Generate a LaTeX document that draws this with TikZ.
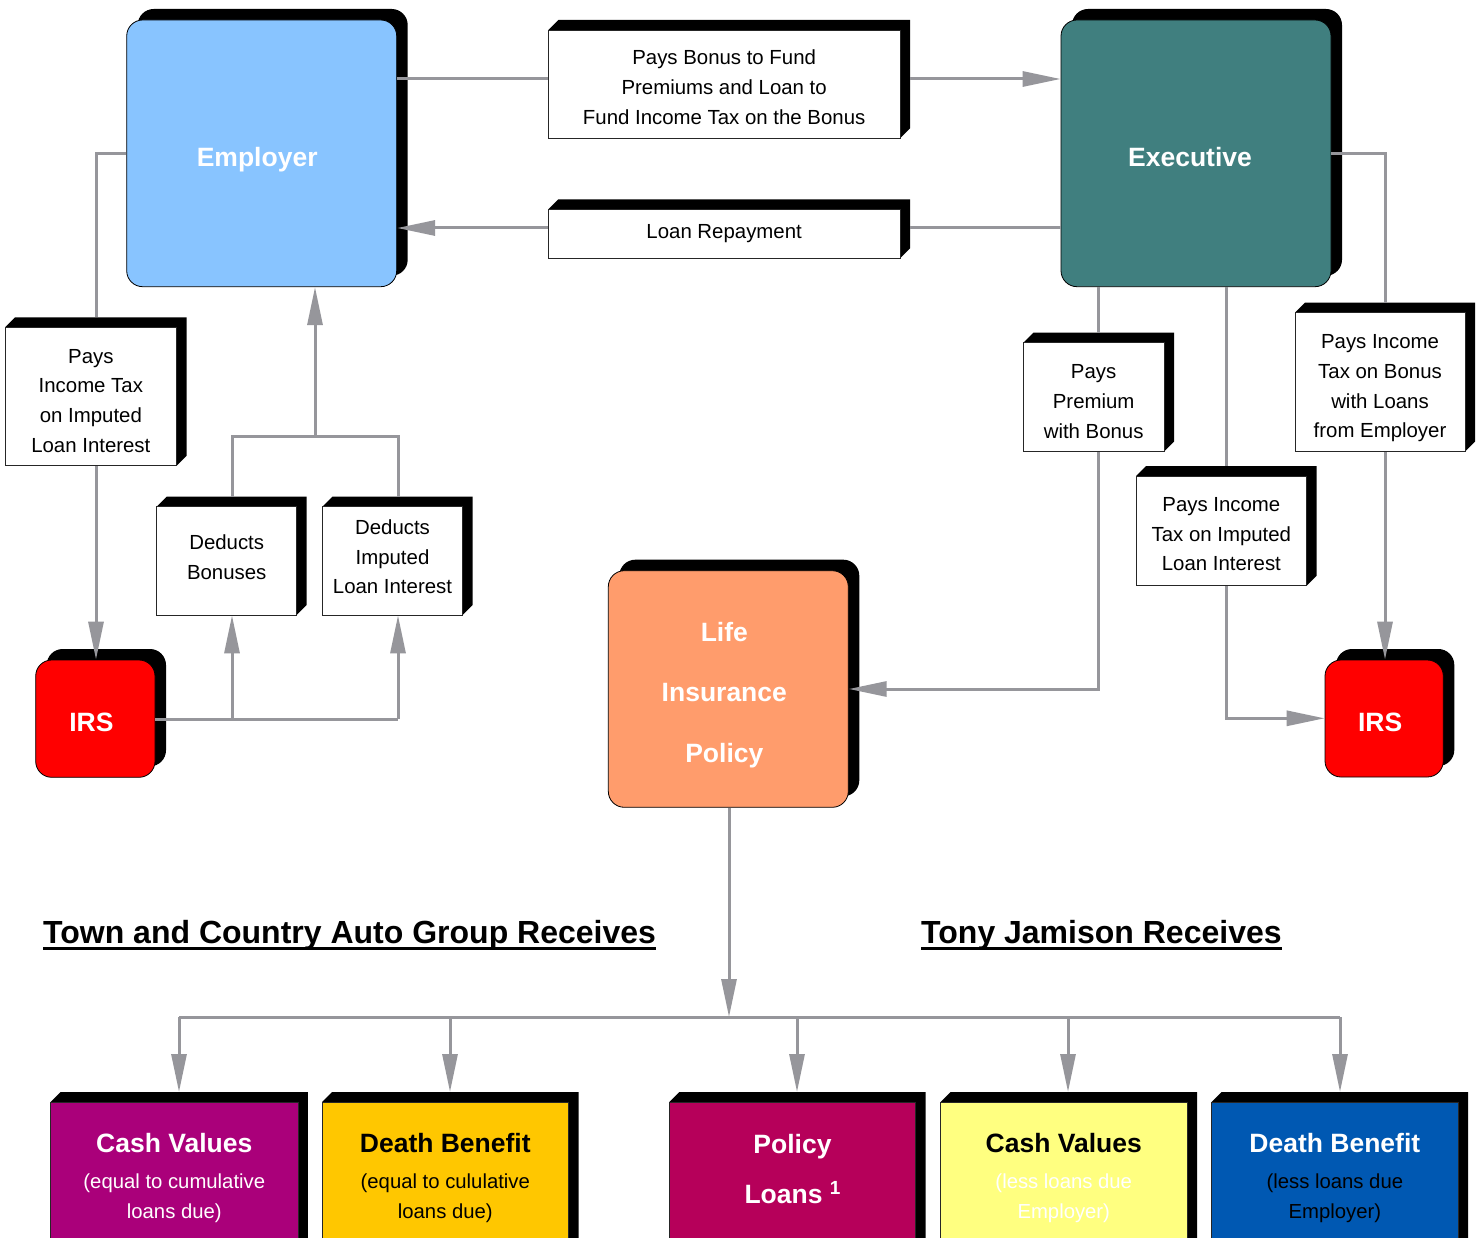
\documentclass[tikz,border=0pt]{standalone}
\usepackage{fontspec}
\setmainfont{Liberation Sans}
\usetikzlibrary{arrows.meta,calc}
\definecolor{linegray}{RGB}{150,150,155}
\definecolor{empblue}{RGB}{136,196,255}
\definecolor{exeteal}{RGB}{64,127,127}
\definecolor{lifeorange}{RGB}{255,156,108}
\definecolor{cvpurple}{RGB}{170,0,122}
\definecolor{dbyellow}{RGB}{255,199,0}
\definecolor{plcrimson}{RGB}{182,0,90}
\definecolor{cvyellow}{RGB}{255,255,128}
\definecolor{dbblue}{RGB}{0,88,178}
\tikzset{
  conn/.style={draw=linegray, line width=3pt},
  arr/.style={conn, -{Triangle[length=38pt,width=15pt]}},
  lbl/.style={draw=black!85, line width=0.8pt, fill=white, inner sep=0pt, align=center,
    font=\fontsize{20.4}{29.7}\selectfont},
  rbx/.style={draw=black, line width=0.8pt, rounded corners=16pt, inner sep=0pt, align=center,
    text=white, text depth=0pt, font=\bfseries\fontsize{26.5}{30}\selectfont},
  btm/.style={font=\fontsize{20.3}{29.3}\selectfont},
  head/.style={inner sep=0pt, anchor=base west, font=\bfseries\fontsize{32}{36}\selectfont}
}
% name, left, top, right, bottom, options, text  (pixel coordinates, y downwards)
\newcommand{\xbox}[7]{%
  \fill[black] (#2,-#3) -- (#2+10,-#3+10) -- (#4+10,-#3+10) -- (#4+10,-#5+10) -- (#4,-#5) -- (#4,-#3) -- cycle;
  \coordinate (#1x) at (#4+10,-#3+10);
  \node[lbl, minimum width=#4-#2, minimum height=#5-#3, #6] (#1) at ({(#2+#4)/2},{-(#3+#5)/2}) {#7};
}
\newcommand{\rbox}[7]{%
  \fill[black, rounded corners=16pt] (#2+11,-#3+11) rectangle (#4+11,-#5+11);
  \node[rbx, minimum width=#4-#2, minimum height=#5-#3, #6] (#1) at ({(#2+#4)/2},{-(#3+#5)/2}) {#7};
}
\newcommand{\tup}[1]{\rule{0pt}{#1pt}}
\newcommand{\tdn}[1]{\rule[-#1pt]{0pt}{0pt}}
\begin{document}
\begin{tikzpicture}[x=1pt,y=1pt]
\useasboundingbox (0,0) rectangle (1479,-1238);
\clip (0,0) rectangle (1479,-1238);
\fill[white] (0,0) rectangle (1479,-1238);

% main rounded boxes
\rbox{emp}{126.7}{20}{396.7}{286.7}{fill=empblue}{\hspace*{-9pt}\tup{27}Employer}
\rbox{exe}{1061}{20}{1331}{286.7}{fill=exeteal}{\hspace*{-12pt}\tup{27}Executive}
\rbox{irsL}{35.7}{660}{155}{777.3}{fill=red}{\hspace*{-8pt}\tup{25}IRS}
\rbox{irsR}{1325}{660}{1443.3}{777}{fill=red}{\hspace*{-8pt}\tup{25}IRS}
\rbox{life}{608.3}{570.7}{848.3}{807.3}{fill=lifeorange, font=\bfseries\fontsize{26.5}{60.5}\selectfont}{\hspace*{-8pt}\tup{25}Life\\\hspace*{-8pt}Insurance\\\hspace*{-8pt}Policy}

% label boxes
\xbox{bonus}{548.3}{30}{900}{138.3}{}{\tup{21}Pays Bonus to Fund\\Premiums and Loan to\\Fund Income Tax on the Bonus}
\xbox{repay}{548.3}{209.3}{900}{258.3}{}{Loan Repayment}
\xbox{taxL}{5}{327.3}{176.7}{465.7}{}{\tup{22.6}Pays\\Income Tax\\on Imputed\\Loan Interest}
\xbox{dedB}{156.7}{506.7}{296.7}{615}{}{Deducts\\Bonuses\tdn{8}}
\xbox{dedI}{322.3}{506.7}{462.7}{615}{}{Deducts\\Imputed\\Loan Interest\tdn{8}}
\xbox{prem}{1023.3}{342.7}{1164}{451.7}{}{\tup{22.6}Pays\\Premium\\with Bonus}
\xbox{taxB}{1295}{312.7}{1465}{451.7}{}{\tup{26.6}Pays Income\\Tax on Bonus\\with Loans\\from Employer}
\xbox{taxI}{1136}{476}{1306.7}{585.7}{}{\tup{20.6}Pays Income\\Tax on Imputed\\Loan Interest}

% headings
\node[head] (h1) at (43,-943.5) {Town and Country Auto Group Receives};
\node[head] (h2) at (921,-943.5) {Tony Jamison Receives};
\draw[line width=3pt] ([yshift=-5pt]h1.base west) -- ([yshift=-5pt]h1.base east);
\draw[line width=3pt] ([yshift=-5pt]h2.base west) -- ([yshift=-5pt]h2.base east);

% bottom boxes
\xbox{cvL}{50.7}{1102}{297.9}{1254}{btm, fill=cvpurple, text=white}{{\bfseries\fontsize{26.5}{29.3}\selectfont Cash Values}\\[6.5pt](equal to cumulative\\loans due)}
\xbox{dbL}{322}{1102}{568.6}{1254}{btm, fill=dbyellow, text=black}{{\bfseries\fontsize{26.5}{29.3}\selectfont Death Benefit}\\[6.5pt](equal to cululative\\loans due)}
\xbox{pl}{669.3}{1102}{915.7}{1254}{fill=plcrimson, text=white, text depth=18pt, font=\bfseries\fontsize{26.5}{50}\selectfont}{Policy\\Loans~\raisebox{9pt}{\fontsize{19}{19}\selectfont 1}}
\xbox{cvR}{940.5}{1102}{1187}{1254}{btm, fill=cvyellow, text=white}{{\bfseries\fontsize{26.5}{29.3}\selectfont\color{black}Cash Values}\\[6.5pt](less loans due\\Employer)}
\xbox{dbR}{1211.7}{1102}{1458}{1254}{btm, fill=dbblue, text=black}{{\bfseries\fontsize{26.5}{29.3}\selectfont\color{white}Death Benefit}\\[6.5pt](less loans due\\Employer)}

% junctions
\coordinate (jL) at (232,-719);
\coordinate (jR) at (398,-719);
\coordinate (jT) at (315,-436.7);
\coordinate (jB) at (729,-1017);

% connectors
\draw[conn] (emp.east |- 0,-79) -- (bonus.west |- 0,-79);
\draw[arr] (bonusx |- 0,-79) -- (exe.west |- 0,-79);
\draw[conn] (exe.west |- 0,-228) -- (repayx |- 0,-228);
\draw[arr] (repay.west |- 0,-228) -- (emp.east |- 0,-228);

\draw[conn] (emp.west) -| (96,0 |- taxLx);
\draw[arr] (96,0 |- taxL.south) -- (96,0 |- irsL.north);
\draw[conn] (irsL.east |- jL) -- (jR);
\draw[arr] (jL) -- (jL |- dedB.south);
\draw[arr] (jR) -- (jR |- dedI.south);
\draw[conn] (jL |- dedBx) |- (jT);
\draw[conn] (jR |- dedIx) |- (jT);
\draw[arr] (jT) -- (jT |- emp.south);

\draw[conn] (exe.east) -| (1385,0 |- taxBx);
\draw[arr] (1385,0 |- taxB.south) -- (1385,0 |- irsR.north);
\draw[conn] (1098.3,0 |- exe.south) -- (1098.3,0 |- premx);
\draw[arr] (1098.3,0 |- prem.south) |- (life.east |- 0,-689);
\draw[conn] (1226.7,0 |- exe.south) -- (1226.7,0 |- taxIx);
\draw[arr] (1226.7,0 |- taxI.south) |- (irsR.west |- 0,-718.3);

\draw[arr] (jB |- life.south) -- (jB);
\draw[conn] (179,0 |- jB) -- (1340,0 |- jB);
\draw[arr] (179,0 |- jB) -- (179,0 |- cvLx);
\draw[arr] (450,0 |- jB) -- (450,0 |- dbLx);
\draw[arr] (797,0 |- jB) -- (797,0 |- plx);
\draw[arr] (1068,0 |- jB) -- (1068,0 |- cvRx);
\draw[arr] (1340,0 |- jB) -- (1340,0 |- dbRx);
\end{tikzpicture}
\end{document}
